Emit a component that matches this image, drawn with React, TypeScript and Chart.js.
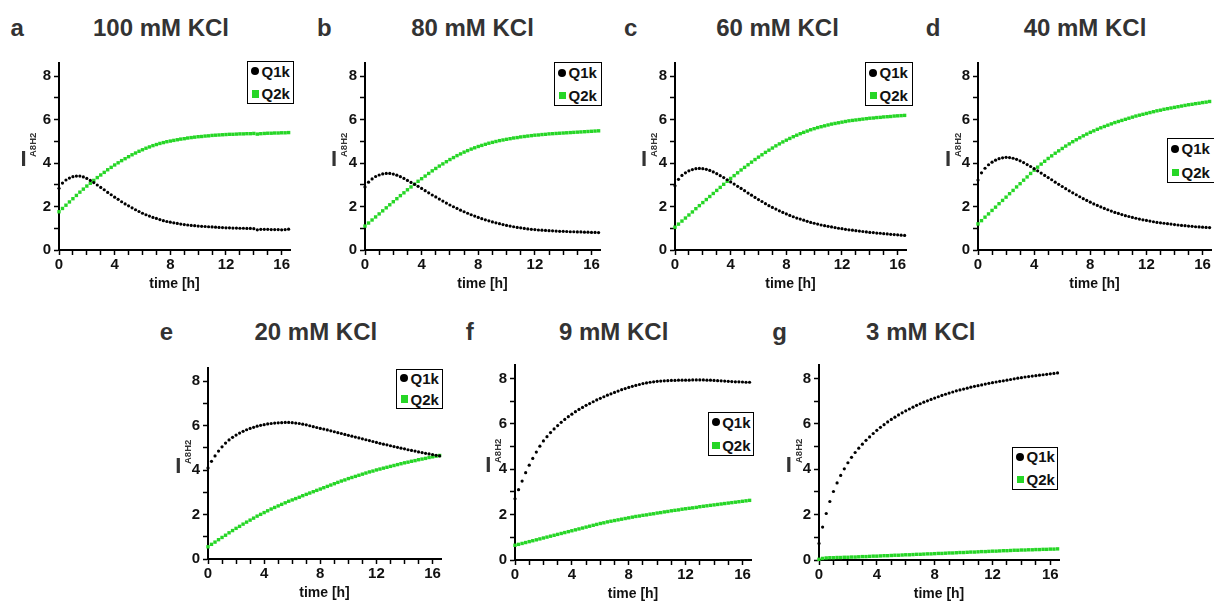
import React, { useEffect, useRef } from 'react';
import { Chart, registerables } from 'chart.js';

Chart.register(...registerables);

// ---------- data ----------
const TIME_H = [
  0, 0.25, 0.5, 0.75, 1, 1.25, 1.5, 1.75, 2, 2.25, 2.5, 2.75, 3, 3.25, 3.5, 3.75,
  4, 4.25, 4.5, 4.75, 5, 5.25, 5.5, 5.75, 6, 6.25, 6.5, 6.75, 7, 7.25, 7.5, 7.75,
  8, 8.25, 8.5, 8.75, 9, 9.25, 9.5, 9.75, 10, 10.25, 10.5, 10.75, 11, 11.25, 11.5, 11.75,
  12, 12.25, 12.5, 12.75, 13, 13.25, 13.5, 13.75, 14, 14.25, 14.5, 14.75, 15, 15.25, 15.5, 15.75,
  16, 16.25, 16.5,
];

const X_TICK_LABELS = [0, 4, 8, 12, 16];
const Y_TICK_LABELS = [0, 2, 4, 6, 8];
const SERIES_NAMES = ['Q1k', 'Q2k'];
const PANEL_TITLES = ['100 mM KCl', '80 mM KCl', '60 mM KCl', '40 mM KCl', '20 mM KCl', '9 mM KCl', '3 mM KCl'];
const PANEL_LETTERS = ['a', 'b', 'c', 'd', 'e', 'f', 'g'];

const Q1K_100 = [2.84,3.08,3.22,3.31,3.37,3.40,3.40,3.36,3.29,3.20,3.10,2.99,2.88,2.77,2.65,2.54,2.43,2.33,2.22,2.12,2.03,1.94,1.85,1.77,1.69,1.62,1.56,1.50,1.45,1.40,1.35,1.31,1.28,1.25,1.22,1.19,1.17,1.15,1.13,1.12,1.10,1.09,1.08,1.07,1.06,1.05,1.04,1.03,1.02,1.02,1.01,1.01,1.00,1.00,0.99,0.99,0.98,0.93,0.95,0.95,0.95,0.94,0.94,0.94,0.93,0.94,0.96];
const Q2K_100 = [1.76,1.91,2.06,2.21,2.36,2.51,2.66,2.80,2.94,3.07,3.20,3.33,3.45,3.57,3.69,3.80,3.91,4.01,4.11,4.20,4.29,4.38,4.46,4.54,4.61,4.68,4.74,4.80,4.85,4.90,4.94,4.98,5.01,5.04,5.07,5.10,5.12,5.15,5.17,5.19,5.21,5.22,5.24,5.25,5.27,5.28,5.29,5.30,5.31,5.32,5.32,5.33,5.34,5.34,5.35,5.35,5.36,5.33,5.35,5.36,5.37,5.37,5.38,5.38,5.39,5.39,5.40];

const Q1K_80 = [2.90,3.12,3.27,3.38,3.45,3.50,3.52,3.52,3.49,3.44,3.37,3.29,3.20,3.11,3.02,2.93,2.83,2.73,2.63,2.53,2.44,2.34,2.25,2.16,2.07,1.99,1.91,1.83,1.76,1.69,1.62,1.56,1.50,1.44,1.39,1.34,1.29,1.25,1.21,1.17,1.13,1.10,1.07,1.04,1.02,0.99,0.97,0.95,0.94,0.92,0.91,0.90,0.89,0.88,0.87,0.86,0.86,0.85,0.84,0.84,0.83,0.83,0.82,0.82,0.81,0.81,0.80];
const Q2K_80 = [1.10,1.24,1.38,1.52,1.66,1.80,1.94,2.08,2.22,2.36,2.50,2.63,2.77,2.90,3.03,3.16,3.28,3.40,3.52,3.64,3.75,3.86,3.96,4.06,4.16,4.25,4.34,4.42,4.50,4.57,4.64,4.70,4.76,4.81,4.86,4.91,4.95,4.99,5.03,5.06,5.09,5.12,5.15,5.17,5.20,5.22,5.24,5.26,5.28,5.29,5.31,5.32,5.34,5.35,5.36,5.37,5.38,5.39,5.40,5.41,5.42,5.43,5.44,5.45,5.46,5.47,5.48];

const Q1K_60 = [2.95,3.25,3.43,3.55,3.64,3.70,3.74,3.75,3.74,3.71,3.66,3.59,3.51,3.42,3.33,3.23,3.13,3.03,2.93,2.83,2.73,2.62,2.52,2.42,2.32,2.23,2.13,2.04,1.96,1.88,1.80,1.73,1.66,1.59,1.53,1.47,1.42,1.37,1.32,1.27,1.23,1.19,1.15,1.12,1.09,1.06,1.03,1.00,0.98,0.95,0.93,0.91,0.89,0.87,0.85,0.83,0.81,0.80,0.78,0.77,0.75,0.74,0.72,0.71,0.70,0.68,0.67];
const Q2K_60 = [1.05,1.19,1.33,1.47,1.61,1.75,1.90,2.04,2.18,2.32,2.46,2.60,2.74,2.88,3.02,3.16,3.29,3.42,3.55,3.68,3.80,3.92,4.04,4.16,4.27,4.38,4.49,4.59,4.69,4.79,4.88,4.97,5.05,5.13,5.21,5.28,5.35,5.41,5.47,5.53,5.58,5.63,5.67,5.71,5.75,5.79,5.82,5.85,5.88,5.91,5.94,5.96,5.98,6.00,6.02,6.04,6.06,6.07,6.09,6.10,6.12,6.13,6.14,6.16,6.17,6.18,6.19];

const Q1K_40 = [3.22,3.55,3.76,3.92,4.04,4.13,4.20,4.24,4.26,4.25,4.22,4.17,4.10,4.02,3.93,3.84,3.74,3.64,3.54,3.43,3.33,3.23,3.12,3.02,2.92,2.82,2.72,2.63,2.54,2.45,2.36,2.28,2.20,2.12,2.05,1.98,1.91,1.85,1.79,1.73,1.68,1.63,1.58,1.54,1.50,1.46,1.42,1.39,1.36,1.33,1.30,1.27,1.25,1.23,1.21,1.19,1.17,1.15,1.13,1.12,1.10,1.09,1.07,1.06,1.05,1.04,1.03];
const Q2K_40 = [1.20,1.35,1.51,1.66,1.82,1.97,2.13,2.28,2.43,2.59,2.74,2.90,3.05,3.21,3.36,3.52,3.67,3.81,3.95,4.08,4.21,4.33,4.45,4.56,4.67,4.78,4.88,4.98,5.07,5.16,5.25,5.33,5.41,5.48,5.55,5.62,5.68,5.74,5.80,5.86,5.91,5.96,6.01,6.06,6.11,6.16,6.20,6.24,6.28,6.32,6.36,6.40,6.43,6.47,6.50,6.53,6.56,6.59,6.62,6.65,6.68,6.70,6.73,6.75,6.78,6.80,6.83];

const Q1K_20 = [4.10,4.40,4.64,4.86,5.05,5.22,5.36,5.48,5.58,5.67,5.75,5.82,5.88,5.93,5.98,6.02,6.05,6.08,6.10,6.12,6.13,6.14,6.15,6.15,6.14,6.12,6.10,6.07,6.04,6.00,5.96,5.92,5.88,5.85,5.81,5.77,5.73,5.69,5.65,5.61,5.57,5.53,5.49,5.45,5.41,5.37,5.33,5.29,5.25,5.21,5.17,5.14,5.10,5.06,5.03,4.99,4.96,4.92,4.89,4.86,4.82,4.79,4.76,4.73,4.70,4.67,4.64];
const Q2K_20 = [0.55,0.66,0.76,0.87,0.97,1.07,1.18,1.28,1.38,1.47,1.57,1.66,1.75,1.84,1.93,2.01,2.09,2.17,2.25,2.32,2.39,2.46,2.53,2.60,2.66,2.72,2.78,2.85,2.91,2.97,3.03,3.09,3.15,3.21,3.27,3.33,3.39,3.45,3.51,3.56,3.62,3.67,3.72,3.77,3.82,3.87,3.92,3.96,4.01,4.05,4.09,4.13,4.17,4.21,4.25,4.29,4.33,4.36,4.40,4.43,4.47,4.50,4.53,4.57,4.60,4.63,4.66];

const Q1K_9 = [2.70,3.10,3.48,3.85,4.18,4.48,4.76,5.02,5.25,5.44,5.62,5.78,5.93,6.07,6.20,6.32,6.43,6.54,6.64,6.73,6.82,6.90,6.98,7.06,7.13,7.20,7.27,7.33,7.39,7.45,7.51,7.56,7.61,7.66,7.70,7.74,7.78,7.81,7.84,7.86,7.88,7.89,7.90,7.91,7.92,7.92,7.93,7.93,7.93,7.93,7.94,7.94,7.94,7.94,7.93,7.93,7.92,7.91,7.90,7.89,7.88,7.87,7.86,7.86,7.85,7.84,7.84];
const Q2K_9 = [0.65,0.69,0.73,0.77,0.81,0.85,0.89,0.93,0.97,1.01,1.05,1.09,1.13,1.17,1.21,1.25,1.29,1.33,1.37,1.41,1.45,1.49,1.53,1.57,1.61,1.64,1.68,1.71,1.74,1.77,1.80,1.83,1.86,1.89,1.92,1.94,1.97,1.99,2.02,2.04,2.07,2.09,2.12,2.14,2.17,2.19,2.21,2.24,2.26,2.28,2.30,2.32,2.35,2.37,2.39,2.41,2.43,2.45,2.47,2.49,2.51,2.53,2.55,2.57,2.59,2.61,2.63];

const Q1K_3 = [0.73,1.45,2.05,2.58,3.02,3.40,3.73,4.02,4.29,4.53,4.74,4.93,5.11,5.28,5.43,5.58,5.72,5.85,5.97,6.09,6.20,6.30,6.40,6.49,6.58,6.66,6.74,6.82,6.89,6.96,7.02,7.08,7.14,7.20,7.26,7.31,7.36,7.41,7.46,7.50,7.54,7.58,7.62,7.66,7.69,7.72,7.76,7.79,7.82,7.85,7.88,7.90,7.93,7.96,7.99,8.02,8.04,8.07,8.09,8.11,8.13,8.15,8.17,8.19,8.21,8.23,8.25];
const Q2K_3 = [0.03,0.07,0.09,0.10,0.10,0.11,0.11,0.12,0.12,0.13,0.13,0.14,0.15,0.15,0.16,0.17,0.17,0.18,0.19,0.19,0.20,0.21,0.21,0.22,0.23,0.23,0.24,0.25,0.25,0.26,0.27,0.27,0.28,0.29,0.29,0.30,0.31,0.31,0.32,0.33,0.33,0.34,0.35,0.35,0.36,0.37,0.37,0.38,0.39,0.39,0.40,0.41,0.41,0.42,0.43,0.43,0.44,0.44,0.45,0.45,0.46,0.46,0.47,0.47,0.48,0.48,0.49];

const Q1K_ALL = [Q1K_100, Q1K_80, Q1K_60, Q1K_40, Q1K_20, Q1K_9, Q1K_3];
const Q2K_ALL = [Q2K_100, Q2K_80, Q2K_60, Q2K_40, Q2K_20, Q2K_9, Q2K_3];

const X_MIN = 0;
const X_MAX = 16.6;
const Y_MIN = 0;
const Y_MAX = 8.6;

// ---------- layout / style ----------
const FONT = '"Liberation Sans", Arial, Helvetica, sans-serif';
const GREEN = '#26d626';
const TEXT_DARK = '#333333';
const AXIS_TEXT = '#111111';

const WY = 50; // y axis box width
const PT = 12; // top padding of canvas above plot area
const PR = 4; // right padding
const HX = 43; // x axis box height

type Layout = {
  left: number; right: number; top: number; bottom: number;
  letterX: number; titleCX: number; baseY: number;
  legend: { l: number; t: number; w: number; h: number };
  iCX: number;
};

const LAYOUTS: Layout[] = [
  { left: 59, right: 290, top: 63, bottom: 250, letterX: 11.5, titleCX: 161, baseY: 36.7, legend: { l: 247, t: 61, w: 47, h: 43 }, iCX: 23.5 },
  { left: 365, right: 600, top: 63, bottom: 250, letterX: 318, titleCX: 472.5, baseY: 36.7, legend: { l: 554, t: 62, w: 48, h: 44 }, iCX: 334 },
  { left: 675, right: 906, top: 63, bottom: 250, letterX: 625, titleCX: 777.5, baseY: 36.7, legend: { l: 865, t: 62, w: 48, h: 44 }, iCX: 644 },
  { left: 978, right: 1211, top: 63, bottom: 250, letterX: 926.7, titleCX: 1085, baseY: 36.7, legend: { l: 1167, t: 138, w: 48, h: 45 }, iCX: 948 },
  { left: 208, right: 441, top: 368, bottom: 559, letterX: 160.7, titleCX: 315.8, baseY: 340.7, legend: { l: 396, t: 369, w: 47, h: 39.5 }, iCX: 178.3 },
  { left: 515, right: 751, top: 365, bottom: 560, letterX: 466.7, titleCX: 613.7, baseY: 340.7, legend: { l: 707.7, t: 412, w: 46.6, h: 43.5 }, iCX: 488.3 },
  { left: 819, right: 1059, top: 365, bottom: 560, letterX: 773.3, titleCX: 920.8, baseY: 340.7, legend: { l: 1012, t: 446.5, w: 46.3, h: 43.5 }, iCX: 788.7 },
];

function PanelChart({ idx }: { idx: number }) {
  const ref = useRef<HTMLCanvasElement | null>(null);
  const L = LAYOUTS[idx];
  const cw = WY + (L.right - L.left) + PR;
  const ch = PT + (L.bottom - L.top) + HX;

  useEffect(() => {
    if (!ref.current) return;
    const q1 = Q1K_ALL[idx];
    const q2 = Q2K_ALL[idx];
    const tickFont = { family: FONT, size: 15, weight: 'bold' as const };
    const titleFont = { family: FONT, size: 14, weight: 'bold' as const };
    const chart = new Chart(ref.current, {
      type: 'scatter',
      data: {
        datasets: [
          {
            label: SERIES_NAMES[0],
            data: TIME_H.map((t, i) => ({ x: t, y: q1[i] })),
            pointStyle: 'circle',
            pointRadius: 1.6,
            pointBackgroundColor: '#000000',
            pointBorderWidth: 0,
            backgroundColor: '#000000',
            borderColor: '#000000',
            showLine: false,
            clip: false,
          },
          {
            label: SERIES_NAMES[1],
            data: TIME_H.map((t, i) => ({ x: t, y: q2[i] })),
            pointStyle: 'rect',
            pointRadius: 2.4,
            pointBackgroundColor: GREEN,
            pointBorderWidth: 0,
            backgroundColor: GREEN,
            borderColor: GREEN,
            showLine: false,
            clip: false,
          },
        ],
      },
      options: {
        animation: false,
        responsive: false,
        maintainAspectRatio: false,
        devicePixelRatio: 1,
        events: [],
        layout: { padding: { left: 0, top: PT, right: PR, bottom: 0 } },
        plugins: {
          legend: { display: false },
          tooltip: { enabled: false },
          title: { display: false },
        },
        scales: {
          x: {
            type: 'linear',
            min: X_MIN,
            max: X_MAX,
            afterFit: (s: any) => { s.height = HX; },
            border: { display: true, color: '#000', width: 2 },
            grid: { display: true, drawOnChartArea: false, drawTicks: true, tickLength: 5, tickWidth: 1.5, tickColor: '#000' },
            ticks: {
              stepSize: 1,
              includeBounds: false,
              autoSkip: false,
              maxRotation: 0,
              minRotation: 0,
              padding: 1,
              color: AXIS_TEXT,
              font: tickFont,
              callback: (v: any) => (X_TICK_LABELS.includes(Number(v)) ? String(v) : ''),
            },
            title: { display: true, text: 'time [h]', color: AXIS_TEXT, font: titleFont, padding: 0 },
          },
          y: {
            type: 'linear',
            min: Y_MIN,
            max: Y_MAX,
            afterFit: (s: any) => { s.width = WY; },
            border: { display: true, color: '#000', width: 2 },
            grid: { display: true, drawOnChartArea: false, drawTicks: true, tickLength: 5, tickWidth: 1.5, tickColor: '#000' },
            ticks: {
              stepSize: 1,
              includeBounds: false,
              autoSkip: false,
              padding: 3,
              color: AXIS_TEXT,
              font: tickFont,
              callback: (v: any) => (Y_TICK_LABELS.includes(Number(v)) ? String(v) : ''),
            },
          },
        },
      },
    } as any);
    return () => chart.destroy();
  }, [idx]);

  return (
    <div style={{ position: 'absolute', left: L.left - WY, top: L.top - PT, width: cw, height: ch }}>
      <canvas ref={ref} width={cw} height={ch} style={{ width: cw, height: ch, display: 'block' }} />
    </div>
  );
}

function Legend({ idx }: { idx: number }) {
  const g = LAYOUTS[idx].legend;
  const r1 = g.h * 0.25 - 1.5;
  const r2 = g.h * 0.775 - 1.5;
  const txt: React.CSSProperties = {
    position: 'absolute', left: 13.5, fontFamily: FONT, fontWeight: 'bold', fontSize: 15,
    lineHeight: '15px', color: '#111', whiteSpace: 'nowrap',
  };
  return (
    <div style={{ position: 'absolute', left: g.l, top: g.t, width: g.w, height: g.h, border: '1.5px solid #000', boxSizing: 'border-box', background: '#fff' }}>
      <div style={{ position: 'absolute', left: 7.2 - 4, top: r1 - 4, width: 8, height: 8, borderRadius: '50%', background: '#000' }} />
      <div style={{ ...txt, top: r1 - 7.5 }}>{SERIES_NAMES[0]}</div>
      <div style={{ position: 'absolute', left: 7.2 - 3.7, top: r2 - 3.7, width: 7.4, height: 7.4, background: GREEN }} />
      <div style={{ ...txt, top: r2 - 7.5 }}>{SERIES_NAMES[1]}</div>
    </div>
  );
}

function YLabel({ idx }: { idx: number }) {
  const L = LAYOUTS[idx];
  const mid = (L.top + L.bottom) / 2;
  return (
    <>
      <div style={{ position: 'absolute', left: L.iCX - 7, top: mid + 2 - 11, width: 14, textAlign: 'center', fontFamily: FONT, fontWeight: 'bold', fontSize: 22, lineHeight: '22px', color: TEXT_DARK }}>I</div>
      <div style={{ position: 'absolute', left: L.iCX + 4.8, top: mid, transform: 'rotate(-90deg)', transformOrigin: '0 0', fontFamily: FONT, fontWeight: 'bold', fontSize: 9.5, lineHeight: '9.5px', color: TEXT_DARK, whiteSpace: 'nowrap' }}>A8H2</div>
    </>
  );
}

function Headings({ idx }: { idx: number }) {
  const L = LAYOUTS[idx];
  const top = L.baseY - 20.3;
  const s: React.CSSProperties = { position: 'absolute', top, fontFamily: FONT, fontWeight: 'bold', fontSize: 24, lineHeight: '24px', color: TEXT_DARK, whiteSpace: 'nowrap' };
  return (
    <>
      <div style={{ ...s, left: L.letterX - 1 }}>{PANEL_LETTERS[idx]}</div>
      <div style={{ ...s, left: L.titleCX - 150, width: 300, textAlign: 'center' }}>{PANEL_TITLES[idx]}</div>
    </>
  );
}

export default function App() {
  return (
    <div style={{ position: 'fixed', left: 0, top: 0, width: 1214, height: 601, background: '#fff', overflow: 'hidden' }}>
      {LAYOUTS.map((_, i) => (
        <React.Fragment key={i}>
          <PanelChart idx={i} />
          <Headings idx={i} />
          <YLabel idx={i} />
          <Legend idx={i} />
        </React.Fragment>
      ))}
    </div>
  );
}
